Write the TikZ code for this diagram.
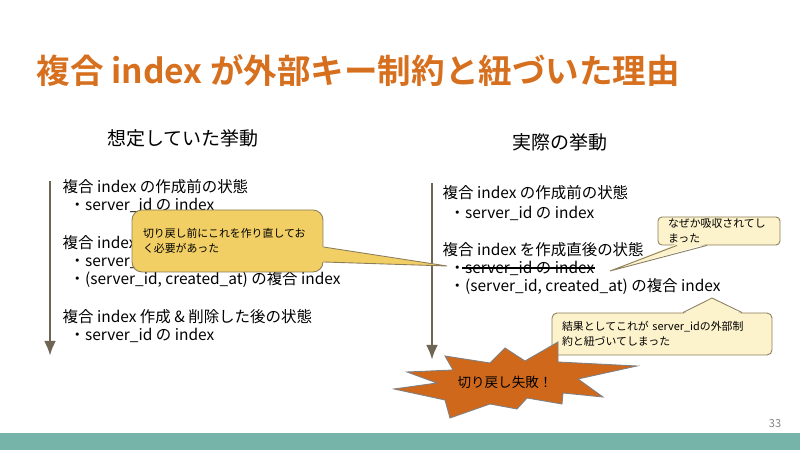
\documentclass[tikz,border=0pt]{standalone}
\usepackage{fontspec}
\setmainfont{Noto Sans CJK JP}[BoldFont={Noto Sans CJK JP Bold}]
\usetikzlibrary{arrows.meta}

\begin{document}
\begin{tikzpicture}[>={Latex[length=3mm,width=2.4mm]},thick]
\definecolor{titleorange}{RGB}{214,112,31}
\definecolor{arrowgray}{RGB}{110,101,84}
\definecolor{noteyellow}{RGB}{242,207,100}
\definecolor{notecream}{RGB}{252,242,204}
\definecolor{noteline}{RGB}{140,125,90}
\definecolor{burstorange}{RGB}{208,104,28}
\definecolor{footerteal}{RGB}{118,180,170}
\def\h{0.02}
\def\punkt#1#2{({(#1)*\h},{(450-(#2))*\h})}
\tikzset{
  body/.style={anchor=west,inner sep=0pt,font=\fontsize{8.8}{10}\selectfont},
  head/.style={inner sep=0pt,font=\fontsize{10.8}{12}\selectfont},
  note/.style={draw=noteline,line width=0.5pt,align=left,inner ysep=0pt,font=\fontsize{6.2}{8.5}\selectfont},
  pointer/.style={draw=noteline,line width=0.5pt},
  timeline/.style={->,color=arrowgray,line width=1.7pt},
}
\useasboundingbox \punkt{0}{0} rectangle \punkt{800}{450};

% title and footer
\node[anchor=west,inner sep=0pt,text=titleorange,font=\fontsize{19.1}{21}\selectfont\bfseries] (title) at \punkt{36}{71} {複合 index が外部キー制約と紐づいた理由};
\fill[color=footerteal] \punkt{0}{433} rectangle \punkt{800}{450};
\node[inner sep=0pt,text=gray,font=\fontsize{6.3}{7}\selectfont] (page) at \punkt{775}{424} {33};

\node[head] (expected) at \punkt{183}{138} {想定していた挙動};
\node[head] (actual) at \punkt{560}{142} {実際の挙動};

% expected
\path \punkt{50}{181} coordinate (ltop) \punkt{50}{356} coordinate (lend);
\draw[timeline] (ltop) -- (lend);
\node[body] (l1) at \punkt{62}{187} {複合 index の作成前の状態};
\node[body] (l2) at \punkt{69}{205} {・server\_id の index};
\node[body] (l3) at \punkt{62}{243} {複合 index を作成直後の状態};
\node[body] (l4) at \punkt{69}{261.5} {・server\_id の index};
\node[body] (l5) at \punkt{69}{280} {・(server\_id, created\_at) の複合 index};
\node[body] (l6) at \punkt{62}{317} {複合 index 作成 \& 削除した後の状態};
\node[body] (l7) at \punkt{69}{335} {・server\_id の index};

% actual
\path \punkt{432}{183} coordinate (rtop) \punkt{432}{360} coordinate (rend);
\draw[timeline] (rtop) -- (rend);
\node[body] (r1) at \punkt{442}{193} {複合 index の作成前の状態};
\node[body] (r2) at \punkt{449}{213} {・server\_id の index};
\node[body] (r3) at \punkt{442}{250} {複合 index を作成直後の状態};
\node[body] (r4) at \punkt{449}{268} {・server\_id の index};
\draw[line width=0.6pt] ([xshift=0.26cm]r4.west) -- (r4.east);
\node[body] (r5) at \punkt{449}{287} {・(server\_id, created\_at) の複合 index};

% callouts
\node[note,fill=noteyellow,rounded corners=0.2cm,text width=3.38cm,inner xsep=0.22cm,minimum height=1.24cm] (redo) at \punkt{227.5}{241} {切り戻し前にこれを作り直してお\\く必要があった};
\path ([yshift=-0.12cm]redo.east) coordinate (redoA) ([yshift=-0.42cm]redo.east) coordinate (redoB) \punkt{447}{266} coordinate (redoP);
\fill[noteyellow] ([xshift=-1pt]redoA) -- (redoP) -- ([xshift=-1pt]redoB) -- cycle;
\draw[pointer] (redoA) -- (redoP) -- (redoB);

\node[note,fill=notecream,rounded corners=0.08cm,text width=2.04cm,inner xsep=0.2cm,minimum height=0.56cm] (absorbed) at \punkt{719}{231} {なぜか吸収されてし\\まった};
\path ([xshift=-0.84cm]absorbed.south) coordinate (absorbedA) ([xshift=-0.24cm]absorbed.south) coordinate (absorbedB) \punkt{610}{271} coordinate (absorbedP);
\fill[notecream] ([yshift=1pt]absorbedA) -- (absorbedP) -- ([yshift=1pt]absorbedB) -- cycle;
\draw[pointer] (absorbedA) -- (absorbedP) -- (absorbedB);

\node[note,fill=notecream,rounded corners=0.1cm,text width=4.0cm,inner xsep=0.2cm,minimum height=0.84cm] (linked) at \punkt{662}{334} {結果としてこれが server\_idの外部制\\約と紐づいてしまった};
\path ([xshift=0.42cm]linked.north) coordinate (linkedA) ([xshift=1.6cm]linked.north) coordinate (linkedB) \punkt{712}{298} coordinate (linkedP);
\fill[notecream] ([yshift=-1pt]linkedA) -- (linkedP) -- ([yshift=-1pt]linkedB) -- cycle;
\draw[pointer] (linkedA) -- (linkedP) -- (linkedB);

% starburst
\filldraw[fill=burstorange,draw=gray,line width=0.5pt] \punkt{394}{389} -- \punkt{437}{383} -- \punkt{407}{372} -- \punkt{453}{370}
  -- \punkt{445}{356} -- \punkt{490}{363} -- \punkt{505}{348} -- \punkt{525}{361} -- \punkt{558}{342} -- \punkt{558}{362}
  -- \punkt{637}{366} -- \punkt{578}{379} -- \punkt{603}{397} -- \punkt{563}{393} -- \punkt{562}{404} -- \punkt{527}{398}
  -- \punkt{517}{409} -- \punkt{490}{404} -- \punkt{450}{418} -- \punkt{445}{400} -- cycle;
\node[inner sep=0pt,font=\fontsize{7.7}{9}\selectfont] (fail) at \punkt{505}{382} {切り戻し失敗！};

\end{tikzpicture}
\end{document}
